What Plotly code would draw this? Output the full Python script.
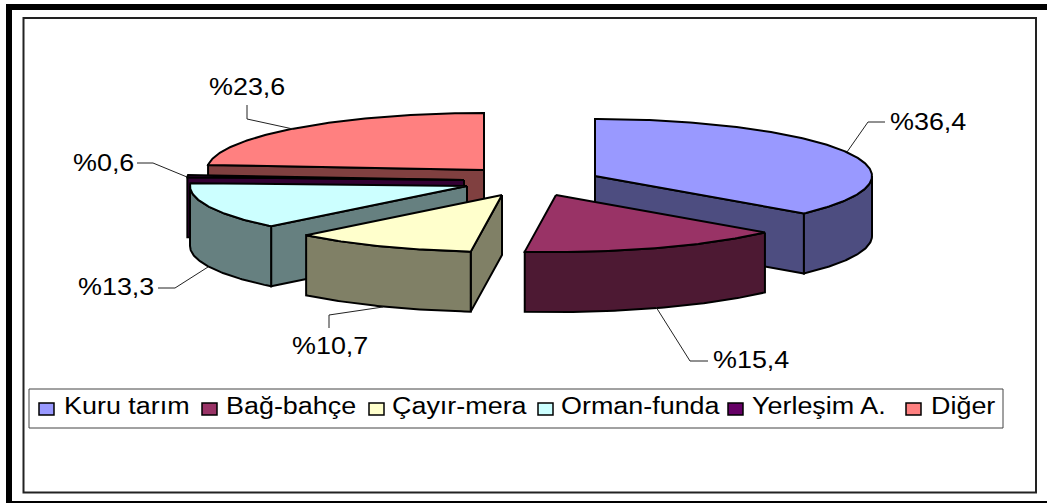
import math
import plotly.graph_objects as go

# ---------- data ----------
categories = ["Kuru tarım", "Bağ-bahçe", "Çayır-mera", "Orman-funda", "Yerleşim A.", "Diğer"]
shares = [36.4, 15.4, 10.7, 13.3, 0.6, 23.6]
value_labels = ["%36,4", "%15,4", "%10,7", "%13,3", "%0,6", "%23,6"]

# ---------- styling / layout ----------
top_colors = ["#9999FF", "#993366", "#FFFFCC", "#CCFFFF", "#660066", "#FF8080"]
side_colors = ["#4D4D80", "#4D1933", "#808066", "#668080", "#330033", "#804040"]
apex_x = [595, 556, 502, 467, 464, 484]      # exploded slice positions
apex_y = [176, 195, 195, 186, 180, 170]
RX, RY, DEPTH = 277, 57, 60
draw_order = [5, 4, 3, 0, 1, 2]              # painter's order, back to front

label_x = [889, 712, 291, 77, 72, 208]
label_y = [122, 360, 346, 287, 163, 87]
leader_x = [[847, 868, 885], [656, 690, 708], [383, 329, 329], [208, 175, 158], [187, 153, 137], [293, 247, 247]]
leader_y = [[152, 122, 122], [307, 361, 361], [307, 315, 328], [267, 288, 288], [177, 163, 163], [129, 119, 105]]

legend_text_x = [63, 225, 391, 560, 751, 930]
swatch_x0 = [39, 202, 369, 538, 728, 906]
FONT = "Liberation Sans, Arial, sans-serif"
FONT_SIZE = 23
TEXT_STRETCH = 1.17

fig = go.Figure()


def arc(cx, cy, a0, a1, dy=0):
    n = max(2, int(abs(a1 - a0) * 1.5))
    xs, ys = [], []
    for i in range(n + 1):
        t = math.radians(a0 + (a1 - a0) * i / n)
        xs.append(cx + RX * math.sin(t))
        ys.append(cy - RY * math.cos(t) + dy)
    return xs, ys


def face(xs, ys, color):
    fig.add_trace(go.Scatter(
        x=xs + xs[:1], y=ys + ys[:1], mode="lines", fill="toself", fillcolor=color,
        line=dict(color="#000000", width=2), hoverinfo="skip", showlegend=False))


def cut_face(cx, cy, a, color):
    xo, yo = arc(cx, cy, a, a)
    face([cx, xo[0], xo[0], cx], [cy, yo[0], yo[0] + DEPTH, cy + DEPTH], color)


# slice start / end angles from the shares
starts, ends, total = [], [], 0.0
for s in shares:
    starts.append(total * 3.6)
    total += s
    ends.append(total * 3.6)

for i in draw_order:
    cx, cy, a0, a1 = apex_x[i], apex_y[i], starts[i], ends[i]
    if math.sin(math.radians(a0)) < 0:
        cut_face(cx, cy, a0, side_colors[i])
    if math.sin(math.radians(a1)) > 0:
        cut_face(cx, cy, a1, side_colors[i])
    lo, hi = max(a0, 90), min(a1, 270)
    if lo < hi:
        xt, yt = arc(cx, cy, lo, hi)
        xb, yb = arc(cx, cy, lo, hi, DEPTH)
        face(xt + xb[::-1], yt + yb[::-1], side_colors[i])
    xa, ya = arc(cx, cy, a0, a1)
    face([cx] + xa, [cy] + ya, top_colors[i])

# leader lines
for lx, ly in zip(leader_x, leader_y):
    fig.add_trace(go.Scatter(x=lx, y=ly, mode="lines", line=dict(color="#222222", width=1),
                             hoverinfo="skip", showlegend=False))

annotations = []
for txt, x, y in zip(value_labels, label_x, label_y):
    annotations.append(dict(x=x, y=y, text=txt, xref="x", yref="y", xanchor="left", yanchor="middle",
                            align="left", showarrow=False, borderpad=0,
                            font=dict(family=FONT, size=FONT_SIZE, color="#000000")))
for txt, x in zip(categories, legend_text_x):
    annotations.append(dict(x=x, y=406, text=txt, xref="x", yref="y", xanchor="left", yanchor="middle",
                            align="left", showarrow=False, borderpad=0,
                            font=dict(family=FONT, size=FONT_SIZE, color="#000000")))

shapes = [
    # outer thick frame
    dict(type="rect", x0=6, x1=12, y0=4, y1=503, fillcolor="#000000", line_width=0),
    dict(type="rect", x0=6, x1=1047, y0=4, y1=10, fillcolor="#000000", line_width=0),
    dict(type="rect", x0=6, x1=1047, y0=501, y1=503, fillcolor="#000000", line_width=0),
    # chart area frame
    dict(type="rect", x0=23.5, x1=1036, y0=18, y1=492.5, line=dict(color="#222222", width=2)),
    # legend box
    dict(type="rect", x0=29, x1=1003, y0=389, y1=428, line=dict(color="#444444", width=1)),
]
for x0, c in zip(swatch_x0, top_colors):
    shapes.append(dict(type="rect", x0=x0, x1=x0 + 15, y0=403, y1=415, fillcolor=c,
                       line=dict(color="#000000", width=1.5)))

fig.update_layout(
    width=1047, height=503, margin=dict(l=0, r=0, t=0, b=0, pad=0),
    paper_bgcolor="#FFFFFF", plot_bgcolor="#FFFFFF", showlegend=False,
    xaxis=dict(range=[0, 1047], visible=False, fixedrange=True),
    yaxis=dict(range=[503, 0], visible=False, fixedrange=True),
    annotations=annotations, shapes=shapes,
)

post = """
document.body.style.margin='0';document.body.style.overflow='hidden';
document.querySelectorAll('.annotation-text').forEach(function(t){
  var w=t.getComputedTextLength()*%s;
  t.setAttribute('textLength',w);t.setAttribute('lengthAdjust','spacingAndGlyphs');
});
""" % TEXT_STRETCH

fig.write_html("out.html", post_script=post, config={"displayModeBar": False})
